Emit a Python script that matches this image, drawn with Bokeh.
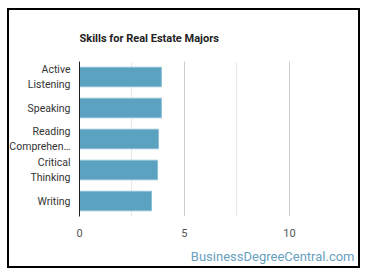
from bokeh.plotting import figure
from bokeh.models import FactorRange, Range1d, FixedTicker, Title
from bokeh.embed import file_html
from bokeh.resources import INLINE

skills = ["Active\nListening", "Speaking", "Reading\nComprehen…", "Critical\nThinking", "Writing"]
scores = [3.9, 3.9, 3.76, 3.72, 3.43]
x_ticks = [0, 5, 10]
x_minor = [2.5, 7.5]
title_text = "Skills for Real Estate Majors"
watermark = "BusinessDegreeCentral.com"

p = figure(width=370, height=278, output_backend="svg", toolbar_location=None,
           y_range=FactorRange(factors=skills[::-1]), x_range=Range1d(0, 13.1),
           min_border_left=79, min_border_right=16, min_border_top=61, min_border_bottom=62)
p.outline_line_color = None
p.border_fill_color = None
p.background_fill_color = None
p.styles = {
    "background": ("linear-gradient(#000,#000) 7px 8px / 353px 2px no-repeat, "
                   "linear-gradient(#000,#000) 7px 266px / 353px 2px no-repeat, "
                   "linear-gradient(#000,#000) 7px 8px / 2px 260px no-repeat, "
                   "linear-gradient(#000,#000) 358px 8px / 2px 260px no-repeat, #ffffff"),
}

p.hbar(y=skills, right=scores, height=0.63, fill_color="#5ba2c0", line_color="#8cbfd4", line_width=1)

p.xaxis.ticker = FixedTicker(ticks=x_ticks, minor_ticks=x_minor)
p.xaxis.axis_line_color = None
p.xaxis.major_tick_line_color = None
p.xaxis.minor_tick_line_color = None
p.xaxis.major_label_text_font = "Roboto"
p.xaxis.major_label_text_font_size = "11px"
p.xaxis.major_label_text_color = "#555555"
p.xaxis.major_label_standoff = 6

p.yaxis.axis_line_color = "#222222"
p.yaxis.major_tick_line_color = None
p.yaxis.minor_tick_line_color = None
p.yaxis.major_label_text_font = "Roboto"
p.yaxis.major_label_text_font_size = "10.5px"
p.yaxis.major_label_text_color = "#333333"
p.yaxis.major_label_standoff = 3

p.ygrid.grid_line_color = None
p.xgrid.grid_line_color = "#cccccc"
p.xgrid.minor_grid_line_color = "#e8e8e8"

p.title.text = title_text
p.title.text_font = "Roboto"
p.title.text_font_size = "11px"
p.title.text_font_style = "bold"
p.title.text_color = "#222222"
p.title.align = "left"
p.title.standoff = 33

wm = Title(text=watermark, align="right", text_font="Roboto", text_font_size="13px",
           text_font_style="normal", text_color="#6a9fbf", standoff=14)
p.add_layout(wm, "below")

open("out.html", "w").write(file_html(p, INLINE))
